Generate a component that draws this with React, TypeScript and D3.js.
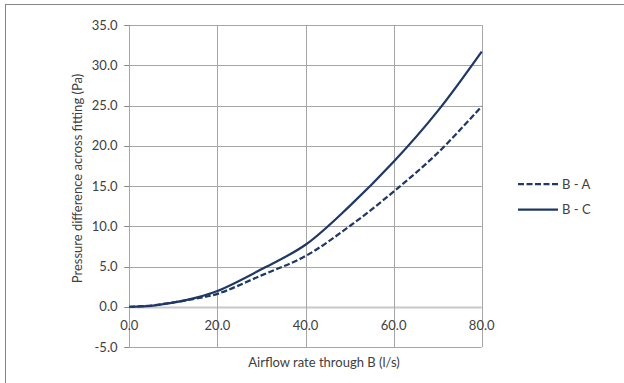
import React from "react";
import * as d3 from "d3";

const airflow = [0, 5, 10, 15, 20, 30, 40, 50, 60, 70, 80];
const seriesBA = [0, 0.15, 0.55, 1.0, 1.6, 3.9, 6.3, 10.0, 14.3, 19.1, 24.9];
const seriesBC = [0, 0.12, 0.5, 1.1, 1.95, 4.65, 7.7, 12.5, 18.0, 24.3, 31.7];
const xTicks = [0, 20, 40, 60, 80];
const yTicks = [-5, 0, 5, 10, 15, 20, 25, 30, 35];
const legendNames = ["B - A", "B - C"];

const W = 624;
const H = 383;
const FONT = "Lato, 'Liberation Sans', sans-serif";
const NAVY = "#1F3864";
const fmt = (v: number) => v.toFixed(1);

export default function App() {
  const x = d3.scaleLinear().domain([0, 80]).range([129.3, 481.7]);
  const y = d3.scaleLinear().domain([-5, 35]).range([347, 25]);
  const line = d3
    .line<number>()
    .x((_, i) => x(airflow[i]))
    .y((d) => y(d))
    .curve(d3.curveCatmullRom.alpha(0.5));

  const series = [
    { name: legendNames[0], values: seriesBA, dash: "6,2.5" },
    { name: legendNames[1], values: seriesBC, dash: undefined },
  ];

  return (
    <svg
      width={W}
      height={H}
      style={{ position: "absolute", left: 0, top: 0, background: "#fff" }}
      fontFamily={FONT}
    >
      <rect x={0} y={0} width={W} height={H} fill="#fff" />
      <rect x={5.5} y={4.5} width={W + 10} height={H + 10} fill="none" stroke="#868686" strokeWidth={1} />

      {yTicks.map((t) => (
        <line
          key={"gy" + t}
          x1={x(0)}
          x2={x(80)}
          y1={Math.round(y(t)) + 0.5}
          y2={Math.round(y(t)) + 0.5}
          stroke={t === 0 ? "#c8c8c8" : "#a6a6a6"}
          strokeWidth={t === 0 ? 2 : 1}
        />
      ))}
      {xTicks.map((t) => (
        <line
          key={"gx" + t}
          x1={Math.round(x(t)) + 0.5}
          x2={Math.round(x(t)) + 0.5}
          y1={y(35)}
          y2={y(-5)}
          stroke="#a6a6a6"
          strokeWidth={1}
        />
      ))}
      {yTicks.map((t) => (
        <g key={"ty" + t}>
          <line
            x1={x(0) - 5}
            x2={x(0)}
            y1={Math.round(y(t)) + 0.5}
            y2={Math.round(y(t)) + 0.5}
            stroke="#868686"
          />
          <text x={117.5} y={y(t)} dy="0.35em" textAnchor="end" fontSize={13} fill="#404040">
            {fmt(t)}
          </text>
        </g>
      ))}
      {xTicks.map((t) => (
        <text key={"tx" + t} x={x(t)} y={y(0) + 19} dy="0.35em" textAnchor="middle" fontSize={13} fill="#404040">
          {fmt(t)}
        </text>
      ))}

      {series.map((s) => (
        <path
          key={s.name}
          d={line(s.values) || ""}
          fill="none"
          stroke={NAVY}
          strokeWidth={2.25}
          strokeDasharray={s.dash}
        />
      ))}

      {series.map((s, i) => (
        <g key={"lg" + s.name} transform={`translate(0, ${184 + i * 25.5})`}>
          <line x1={518} x2={558} y1={0} y2={0} stroke={NAVY} strokeWidth={2.25} strokeDasharray={s.dash} />
          <text x={562} y={0} dy="0.35em" fontSize={13} fill="#404040">
            {s.name}
          </text>
        </g>
      ))}

      <text x={324} y={367} textAnchor="middle" fontSize={13} fill="#404040">
        Airflow rate through B (l/s)
      </text>
      <text
        transform={`translate(81.5, 178.5) rotate(-90)`}
        textAnchor="middle"
        fontSize={13}
        fill="#404040"
      >
        Pressure difference across fitting (Pa)
      </text>
    </svg>
  );
}
